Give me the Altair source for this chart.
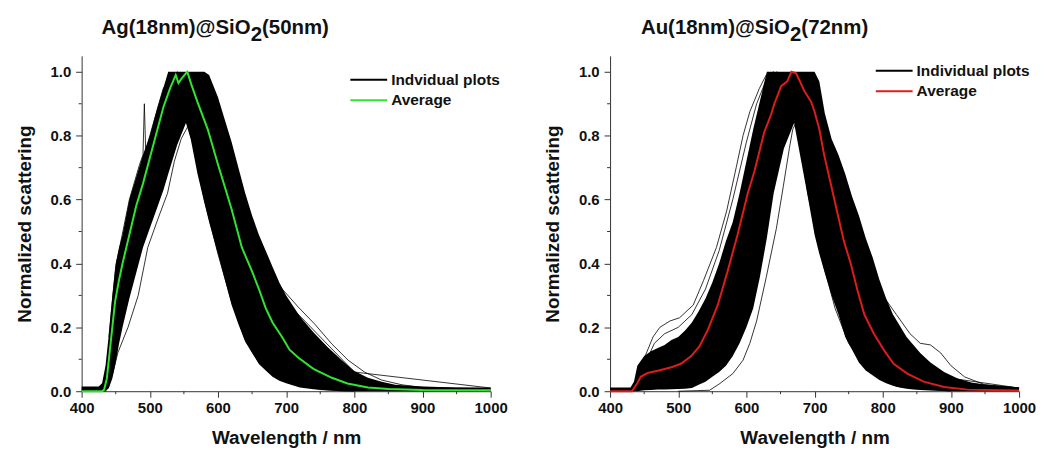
import altair as alt
import pandas as pd

# ---------------- Data ----------------
# Left panel: Ag(18nm)@SiO2(50nm) -- envelope of the bundle of individual spectra
AG_LAM = [400, 425, 430, 435, 440, 445, 450, 455, 460, 470, 480, 490, 500, 510, 520, 527,
          540, 553, 560, 570, 580, 587, 600, 610, 620, 630, 640, 650, 660, 670, 680, 690,
          700, 720, 740, 760, 780, 800, 820, 840, 860, 880, 900, 950, 1000]
AG_UPPER = [0.015, 0.015, 0.025, 0.08, 0.18, 0.30, 0.40, 0.45, 0.49, 0.60, 0.67, 0.74, 0.80,
            0.88, 0.95, 1.0, 1.0, 1.0, 1.0, 1.0, 1.0, 0.99, 0.92, 0.85, 0.78, 0.70, 0.62,
            0.55, 0.49, 0.44, 0.39, 0.34, 0.30, 0.235, 0.185, 0.14, 0.10, 0.063, 0.042,
            0.03, 0.02, 0.017, 0.015, 0.012, 0.012]
AG_LOWER = [0.0, 0.0, 0.0, 0.0, 0.01, 0.04, 0.09, 0.15, 0.20, 0.29, 0.37, 0.45, 0.51, 0.57,
            0.63, 0.68, 0.77, 0.84, 0.79, 0.68, 0.59, 0.53, 0.43, 0.35, 0.27, 0.21, 0.155,
            0.12, 0.085, 0.065, 0.045, 0.033, 0.025, 0.012, 0.006, 0.003, 0.0, 0.0, 0.0,
            0.0, 0.0, 0.0, 0.0, 0.0, 0.0]
AG_AVG_LAM = [400, 430, 433, 437, 441, 445, 449, 455, 460, 470, 480, 490, 500, 510, 520, 530,
              538, 542, 547, 555, 561, 570, 585, 600, 610, 620, 635, 650, 660, 670, 680, 694,
              705, 718, 740, 767, 790, 820, 850, 900, 1000]
AG_AVG = [0.0, 0.0, 0.005, 0.04, 0.12, 0.20, 0.28, 0.35, 0.40, 0.49, 0.58, 0.65, 0.73, 0.81,
          0.89, 0.95, 0.99, 0.965, 0.98, 1.0, 0.96, 0.905, 0.82, 0.71, 0.64, 0.57, 0.45,
          0.375, 0.32, 0.26, 0.215, 0.17, 0.13, 0.105, 0.07, 0.042, 0.024, 0.012, 0.007,
          0.004, 0.003]
# a few individual spectra that stand apart from the bundle
AG_L1_LAM = [435, 445, 453, 468, 483, 497, 512, 526, 536, 546, 556, 565, 580, 600, 620, 640,
             660, 700, 750, 800]
AG_L1 = [0.0, 0.05, 0.12, 0.20, 0.30, 0.45, 0.54, 0.62, 0.72, 0.79, 0.83, 0.76, 0.60, 0.43,
         0.28, 0.16, 0.09, 0.03, 0.005, 0.0]
AG_L2_LAM = [640, 660, 690, 718, 742, 767, 791, 815, 840, 870, 900, 950, 1000]
AG_L2 = [0.60, 0.47, 0.33, 0.263, 0.21, 0.148, 0.097, 0.06, 0.035, 0.02, 0.012, 0.01, 0.008]
AG_L3_LAM = [440, 450, 470, 485, 490, 492, 494, 500, 520, 540, 560, 580, 600, 640, 700, 800, 1000]
AG_L3 = [0.17, 0.39, 0.60, 0.71, 0.74, 0.90, 0.75, 0.80, 0.95, 1.0, 0.97, 0.90, 0.80, 0.55,
         0.28, 0.06, 0.01]

# Right panel: Au(18nm)@SiO2(72nm)
AU_LAM = [400, 430, 435, 440, 450, 460, 470, 480, 490, 500, 510, 520, 530, 540, 550, 560,
          570, 580, 590, 600, 610, 620, 630, 640, 655, 670, 690, 700, 707, 715, 725, 735,
          745, 755, 765, 775, 785, 795, 805, 815, 825, 835, 845, 855, 870, 890, 910, 930,
          950, 1000]
AU_UPPER = [0.012, 0.012, 0.03, 0.08, 0.11, 0.125, 0.135, 0.145, 0.16, 0.17, 0.19, 0.215,
            0.25, 0.29, 0.34, 0.40, 0.47, 0.53, 0.62, 0.72, 0.82, 0.91, 1.0, 1.0, 1.0, 1.0,
            1.0, 1.0, 0.97, 0.87, 0.79, 0.74, 0.68, 0.61, 0.55, 0.48, 0.42, 0.35, 0.29, 0.24,
            0.205, 0.17, 0.145, 0.12, 0.09, 0.06, 0.04, 0.027, 0.02, 0.012]
AU_LOWER = [0.0, 0.0, 0.0, 0.0, 0.003, 0.004, 0.005, 0.005, 0.006, 0.007, 0.008, 0.01, 0.02,
            0.03, 0.045, 0.06, 0.08, 0.11, 0.15, 0.20, 0.26, 0.36, 0.48, 0.62, 0.76, 0.84,
            0.61, 0.49, 0.43, 0.37, 0.30, 0.24, 0.17, 0.13, 0.09, 0.065, 0.05, 0.035, 0.025,
            0.017, 0.012, 0.008, 0.005, 0.004, 0.002, 0.001, 0.0, 0.0, 0.0, 0.0]
AU_AVG_LAM = [400, 432, 440, 445, 455, 470, 490, 504, 519, 531, 543, 558, 573, 587, 602, 612,
              626, 636, 641, 651, 660, 666, 673, 685, 695, 700, 707, 714, 724, 734, 743, 753,
              763, 773, 787, 802, 816, 836, 860, 890, 924, 1000]
AU_AVG = [0.0, 0.0, 0.025, 0.045, 0.057, 0.064, 0.075, 0.086, 0.11, 0.14, 0.19, 0.27, 0.38,
          0.49, 0.62, 0.69, 0.81, 0.865, 0.90, 0.955, 0.97, 1.0, 0.995, 0.94, 0.906, 0.875,
          0.82, 0.74, 0.647, 0.553, 0.47, 0.40, 0.315, 0.24, 0.18, 0.128, 0.086, 0.055, 0.03,
          0.013, 0.005, 0.002]
AU_R1_LAM = [440, 449, 463, 473, 488, 502, 522, 537, 556, 571, 585, 595, 605, 619, 629, 640,
             660, 690, 720, 750, 780, 810, 850, 900, 1000]
AU_R1 = [0.01, 0.097, 0.17, 0.20, 0.22, 0.23, 0.27, 0.346, 0.45, 0.564, 0.70, 0.80, 0.875,
         0.948, 0.99, 1.0, 0.93, 0.75, 0.55, 0.38, 0.25, 0.15, 0.07, 0.03, 0.01]
AU_R2_LAM = [440, 450, 465, 480, 500, 520, 540, 560, 580, 600, 615, 630, 645, 670, 700, 740,
             780, 820, 870, 1000]
AU_R2 = [0.01, 0.08, 0.15, 0.18, 0.20, 0.24, 0.32, 0.44, 0.60, 0.78, 0.90, 0.98, 1.0, 0.90,
         0.70, 0.45, 0.25, 0.12, 0.05, 0.01]
AU_R3_LAM = [500, 546, 561, 580, 595, 605, 615, 629, 644, 654, 663, 668, 675, 690, 710, 730,
             750, 780, 820, 900]
AU_R3 = [0.0, 0.003, 0.024, 0.055, 0.097, 0.15, 0.22, 0.356, 0.51, 0.64, 0.76, 0.82, 0.85,
         0.62, 0.42, 0.26, 0.15, 0.06, 0.015, 0.0]
AU_R4_LAM = [760, 780, 800, 820, 840, 855, 870, 885, 900, 920, 950, 1000]
AU_R4 = [0.45, 0.38, 0.30, 0.24, 0.18, 0.15, 0.145, 0.12, 0.08, 0.045, 0.02, 0.01]

X_TICKS = [400, 500, 600, 700, 800, 900, 1000]
X_MINOR = [450, 550, 650, 750, 850, 950]
Y_TICKS = [0.0, 0.2, 0.4, 0.6, 0.8, 1.0]
Y_MINOR = [0.1, 0.3, 0.5, 0.7, 0.9]

GREEN = "#2fe52f"
RED = "#dd1c1c"
FONT = "Liberation Sans"
W, H = 411, 337
AXC = "#333333"
TXT = "#111111"


def panel(lam, upper, lower, avg_lam, avg, extras, color, t1, t3, leg1, title_x, leg_x, leg_y):
    xs = alt.Scale(domain=[400, 1000], nice=False, zero=False)
    ys = alt.Scale(domain=[0, 1.05], nice=False, zero=False)
    xa = alt.Axis(values=X_TICKS, format="d", title="Wavelength / nm", grid=False,
                  labelFont=FONT, labelFontSize=15, labelFontWeight="bold", labelColor=TXT,
                  tickSize=6, tickColor=AXC, domainColor=AXC, labelPadding=3,
                  titleFont=FONT, titleFontSize=19, titleFontWeight="bold", titleColor=TXT,
                  titlePadding=14, labelFlush=False)
    ya = alt.Axis(values=Y_TICKS, format=".1f", title="Normalized scattering", grid=False,
                  labelFont=FONT, labelFontSize=15, labelFontWeight="bold", labelColor=TXT,
                  tickSize=6, tickColor=AXC, domainColor=AXC, labelPadding=5,
                  titleFont=FONT, titleFontSize=19, titleFontWeight="bold", titleColor=TXT,
                  titlePadding=16)
    X = alt.X("lam:Q", scale=xs, axis=xa)
    Y = alt.Y("v:Q", scale=ys, axis=ya)

    env = pd.DataFrame({"lam": lam, "v": upper, "v2": lower})
    area = alt.Chart(env).mark_area(color="black", opacity=1, interpolate="linear").encode(
        x=X, y=Y, y2="v2:Q")

    rows = []
    for i, (el, ev) in enumerate(extras):
        for a, b in zip(el, ev):
            rows.append({"lam": a, "v": b, "id": i})
    ext = alt.Chart(pd.DataFrame(rows)).mark_line(color="black", strokeWidth=0.8).encode(
        x=X, y=Y, detail="id:N")

    av = alt.Chart(pd.DataFrame({"lam": avg_lam, "v": avg})).mark_line(
        color=color, strokeWidth=2).encode(x=X, y=Y)

    mx = alt.Chart(pd.DataFrame({"lam": X_MINOR})).mark_rule(color=AXC).encode(
        x=X, y=alt.value(H), y2=alt.value(H + 3))
    my = alt.Chart(pd.DataFrame({"v": Y_MINOR})).mark_rule(color=AXC).encode(
        y=Y, x=alt.value(0), x2=alt.value(-3))

    one = pd.DataFrame({"a": [0]})
    txt = dict(font=FONT, fontWeight="bold", color=TXT)
    leg = [
        alt.Chart(one).mark_rule(color="black", strokeWidth=2).encode(
            x=alt.value(leg_x), x2=alt.value(leg_x + 37), y=alt.value(leg_y)),
        alt.Chart(one).mark_rule(color=color, strokeWidth=2).encode(
            x=alt.value(leg_x), x2=alt.value(leg_x + 37), y=alt.value(leg_y + 20.5)),
        alt.Chart(one).mark_text(text=leg1, align="left", baseline="middle", fontSize=15.5,
                                 **txt).encode(x=alt.value(leg_x + 41), y=alt.value(leg_y)),
        alt.Chart(one).mark_text(text="Average", align="left", baseline="middle",
                                 fontSize=15.5, **txt).encode(
            x=alt.value(leg_x + 41), y=alt.value(leg_y + 20.5)),
    ]
    fs = 20.5
    w1 = 7.309 * fs
    title = [
        alt.Chart(one).mark_text(text=t1, align="left", baseline="alphabetic", fontSize=fs,
                                 **txt).encode(x=alt.value(title_x), y=alt.value(-22)),
        alt.Chart(one).mark_text(text="2", align="left", baseline="alphabetic", fontSize=fs,
                                 **txt).encode(x=alt.value(title_x + w1), y=alt.value(-15)),
        alt.Chart(one).mark_text(text=t3, align="left", baseline="alphabetic", fontSize=fs,
                                 **txt).encode(x=alt.value(title_x + w1 + 0.556 * fs),
                                               y=alt.value(-22)),
    ]
    return alt.layer(area, ext, av, mx, my, *leg, *title).properties(width=W, height=H)


left = panel(AG_LAM, AG_UPPER, AG_LOWER, AG_AVG_LAM, AG_AVG,
             [(AG_L1_LAM, AG_L1), (AG_L2_LAM, AG_L2), (AG_L3_LAM, AG_L3)],
             GREEN, "Ag(18nm)@SiO", "(50nm)", "Indvidual plots", 20, 270, 24)
right = panel(AU_LAM, AU_UPPER, AU_LOWER, AU_AVG_LAM, AU_AVG,
              [(AU_R1_LAM, AU_R1), (AU_R2_LAM, AU_R2), (AU_R3_LAM, AU_R3), (AU_R4_LAM, AU_R4)],
              RED, "Au(18nm)@SiO", "(72nm)", "Individual plots", 31, 267, 15)

chart = alt.hconcat(left, right, spacing=36).configure_view(stroke=None).properties(
    padding={"left": 7, "top": 9, "right": 0, "bottom": 5})

chart.save("out.html", embed_options={"renderer": "svg", "actions": False})
